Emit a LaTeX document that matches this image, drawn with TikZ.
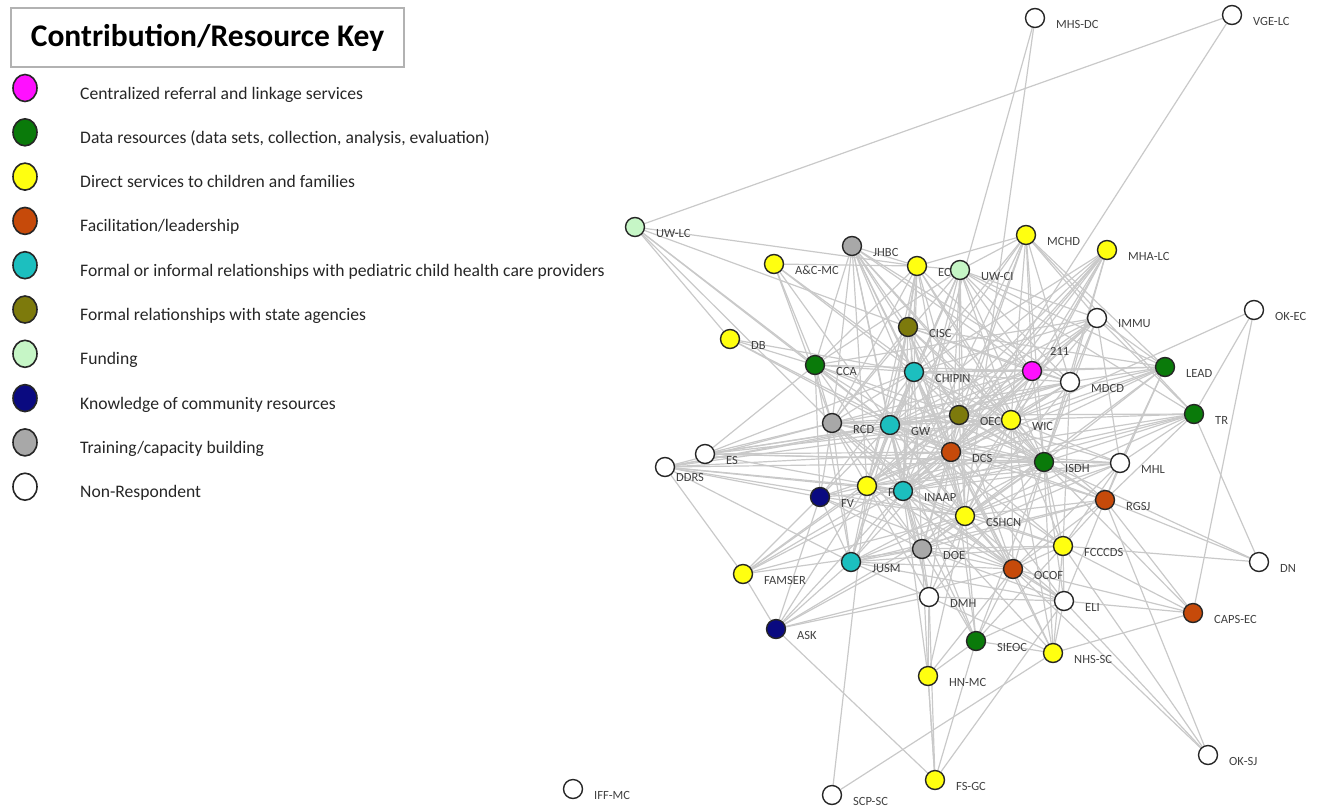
\documentclass[tikz,border=0pt]{standalone}
\usepackage{fontspec}
\setmainfont{Carlito}
\usepackage{tikz}
\usetikzlibrary{backgrounds}
\usetikzlibrary{shapes.geometric}
\definecolor{cref}{HTML}{FF10FF}
\definecolor{cdata}{HTML}{0A7A0A}
\definecolor{cdirect}{HTML}{FFFF10}
\definecolor{cfacil}{HTML}{C64A0A}
\definecolor{cpedi}{HTML}{1CBFBF}
\definecolor{cstate}{HTML}{7D7A0C}
\definecolor{cfund}{HTML}{C6F6C6}
\definecolor{cknow}{HTML}{0A0A80}
\definecolor{ctrain}{HTML}{A8A8A8}
\definecolor{cnon}{HTML}{FFFFFF}

\begin{document}
\begin{tikzpicture}[x=1pt, y=-1pt,
	org/.style={circle, draw=black!85, line width=1.4pt, minimum size=19pt, inner sep=0pt},
	tag/.style={anchor=west, text=black!75, font=\fontsize{12.5}{13}\selectfont, inner sep=0pt},
	link/.style={draw=black!21, line width=1.2pt},
	keydot/.style={ellipse, draw=black!85, line width=1.6pt, minimum width=24pt, minimum height=27pt, inner sep=0pt},
	keytext/.style={anchor=base west, text=black!85, font=\fontsize{17.6}{20}\selectfont, inner sep=0pt}]
	\useasboundingbox (0,0) rectangle (1317,809);
	\node[draw=black!30, line width=1.5pt, minimum width=393pt, minimum height=59pt, font=\bfseries\fontsize{31.5}{33}\selectfont] (key) at (207.5,37.5) {Contribution/Resource Key};
	\foreach \c/\t [count=\i] in {cref/{Centralized referral and linkage services}, cdata/{Data resources (data sets, collection, analysis, evaluation)}, cdirect/{Direct services to children and families}, cfacil/{Facilitation/leadership}, cpedi/{Formal or informal relationships with pediatric child health care providers}, cstate/{Formal relationships with state agencies}, cfund/{Funding}, cknow/{Knowledge of community resources}, ctrain/{Training/capacity building}, cnon/{Non-Respondent}}{
		\node[keydot, fill=\c] (dot\i) at (25,{88+44.3*(\i-1)}) {};
		\node[keytext] (txt\i) at (80,{99+44.3*(\i-1)}) {\t};
	}
	\foreach \n/\x/\y/\c/\t/\u/\v in {uwlc/635/227/cfund/UW-LC/21/6, jhbc/852/246/ctrain/JHBC/21/6, acmc/774/264/cdirect/A\&C-MC/21/6, ec/917/266/cdirect/EC/21/6, uwci/960/270/cfund/UW-CI/21/6, mchd/1026/235/cdirect/MCHD/21/6, mhalc/1107/250/cdirect/MHA-LC/21/6, mhsdc/1035/18/cnon/MHS-DC/21/6, vgelc/1232/15/cnon/VGE-LC/21/6, okec/1254/310/cnon/OK-EC/21/6, immu/1097/318/cnon/IMMU/21/6, cisc/908/327/cstate/CISC/21/6, db/730/339/cdirect/DB/21/6, cca/815/365/cdata/CCA/21/6, chipin/914/372/cpedi/CHIPIN/21/6, n211/1032/371/cref/211/18/-20, mdcd/1070/382/cnon/MDCD/21/6, lead/1165/367/cdata/LEAD/21/6, tr/1194/414/cdata/TR/21/6, rcd/832/423/ctrain/RCD/21/6, gw/890/425/cpedi/GW/21/6, oec/959/415/cstate/OEC/21/6, wic/1011/420/cdirect/WIC/21/6, dcs/951/452/cfacil/DCS/21/6, es/705/454/cnon/ES/21/6, ddrs/665/467/cnon/DDRS/11/10, isdh/1044/462/cdata/ISDH/21/6, mhl/1120/463/cnon/MHL/21/6, fv/820/497/cknow/FV/21/6, fi/867/486/cdirect/F/21/6, inaap/903/491/cpedi/INAAP/21/6, rgsj/1105/500/cfacil/RGSJ/21/6, cshcn/965/516/cdirect/CSHCN/21/6, fcccds/1063/546/cdirect/FCCCDS/21/6, doe/922/549/ctrain/DOE/21/6, jusm/851/562/cpedi/JUSM/21/6, ocof/1013/569/cfacil/OCOF/21/6, dn/1259/562/cnon/DN/21/6, famser/743/574/cdirect/FAMSER/21/6, dmh/929/597/cnon/DMH/21/6, eli/1064/601/cnon/ELI/21/6, capsec/1193/613/cfacil/CAPS-EC/21/6, ask/776/629/cknow/ASK/21/6, sieoc/976/641/cdata/SIEOC/21/6, nhssc/1053/653/cdirect/NHS-SC/21/6, hnmc/928/676/cdirect/HN-MC/21/6, oksj/1208/755/cnon/OK-SJ/21/6, fsgc/935/780/cdirect/FS-GC/21/6, scpsc/832/795/cnon/SCP-SC/21/6, iffmc/573/789/cnon/IFF-MC/21/6}{
		\node[tag] (\n-tag) at ({\x+\u},{\y+\v}) {\t};
		\node[org, fill=\c] (\n) at (\x,\y) {};
	}
	\begin{scope}[on background layer]
	\foreach \a/\l in {uwlc/{vgelc,ec,cisc,cca,db,gw,rcd}, mhsdc/{inaap,cshcn}, vgelc/{dcs}, okec/{wic,tr,capsec},
		tr/{dn,mchd,immu,isdh,wic,oec,dcs,mhl,cshcn,rgsj,inaap,fi}, lead/{immu,n211,mdcd,isdh,dcs,mhl,oec,chipin,cisc,rgsj,wic,inaap,cshcn},
		dn/{rgsj,isdh,fcccds}, capsec/{rgsj,fcccds,ocof,eli,nhssc,isdh}, oksj/{eli,rgsj,fcccds,ocof},
		nhssc/{sieoc,eli,ocof,scpsc,fcccds,dcs,dmh,inaap,isdh,wic}, fsgc/{hnmc,dmh,ask,eli,sieoc}, scpsc/{fi},
		ask/{famser,fv,jusm,inaap,dmh,fi,cshcn,doe,ocof}, famser/{ddrs,fv,fi,inaap,dcs,doe,cshcn,oec},
		ddrs/{jusm,fv,fi,rcd,gw,dcs,inaap,isdh,wic,oec,cshcn}, es/{cca,rcd,gw,dcs,oec,inaap,isdh,wic,mhl,chipin},
		db/{cca,gw,chipin,dcs}, acmc/{cca,rcd,gw,chipin,isdh,ec},
		jhbc/{ec,cca,rcd,gw,chipin,cisc,dcs,oec,isdh,inaap,wic,fi,cshcn,mdcd,n211}, ec/{uwci,mchd,cisc,chipin,gw,dcs,rcd,cca,isdh,oec,wic,inaap,n211,fi},
		uwci/{mchd,cca,chipin,dcs,oec,isdh,wic,rcd,gw,inaap,immu,n211,mdcd,lead,tr,cshcn,fi}, mchd/{n211,immu,chipin,isdh,dcs,wic,oec,gw,mdcd,inaap,lead},
		mhalc/{chipin,oec,n211,isdh,wic,gw,dcs,mdcd,inaap,cshcn,fi}, immu/{n211,mdcd,isdh,dcs,wic,cca,mhl,oec,chipin,gw,inaap},
		cisc/{chipin,dcs,gw,isdh,oec,wic,cshcn,inaap,n211,mdcd,rcd,fi}, cca/{chipin,rcd,gw,dcs,inaap,fv,isdh,n211,oec,jusm},
		chipin/{gw,dcs,isdh,oec,wic,n211,inaap,cshcn,rcd,fi,mdcd,fv,jusm,doe,ocof}, n211/{mdcd,dcs,isdh,oec,wic,gw,inaap,fi,rcd},
		mdcd/{dcs,isdh,oec,wic,inaap,gw,cshcn,fcccds}, rcd/{gw,dcs,fv,fi,inaap,jusm,oec,isdh,wic,cshcn,doe,ocof,mdcd},
		gw/{dcs,oec,wic,isdh,fi,inaap,fv,jusm,cshcn,doe,ocof,mdcd,rgsj,fcccds,dmh}, oec/{dcs,wic,isdh,fi,inaap,cshcn,doe,ocof,rgsj,mhl},
		wic/{dcs,isdh,fi,inaap,cshcn,ocof,rgsj,mhl,fcccds,doe}, dcs/{isdh,fi,inaap,cshcn,doe,ocof,rgsj,mhl,fcccds,jusm,dmh,eli,sieoc,fv},
		isdh/{mhl,rgsj,fi,inaap,cshcn,ocof,fcccds,doe,eli,sieoc,jusm,dmh}, mhl/{rgsj,cshcn,ocof,fcccds,inaap,fi,doe},
		fv/{fi,jusm,inaap,doe,cshcn,ocof}, fi/{inaap,jusm,doe,cshcn,ocof,dmh}, inaap/{cshcn,jusm,doe,ocof,fcccds,dmh,eli,sieoc},
		rgsj/{cshcn,fcccds,ocof,eli}, cshcn/{doe,ocof,fcccds,eli,sieoc,dmh,jusm}, fcccds/{ocof,eli,sieoc},
		doe/{ocof,jusm,dmh,hnmc,sieoc,fcccds,eli,rgsj}, jusm/{ocof,dmh,fcccds,eli,rgsj}, ocof/{eli,sieoc,hnmc}, dmh/{hnmc,eli},
		eli/{sieoc}, sieoc/{hnmc,gw}, hnmc/{fsgc,inaap,cshcn}}
		\foreach \b in \l
			\draw[link] (\a) -- (\b);
	\end{scope}
\end{tikzpicture}
\end{document}
